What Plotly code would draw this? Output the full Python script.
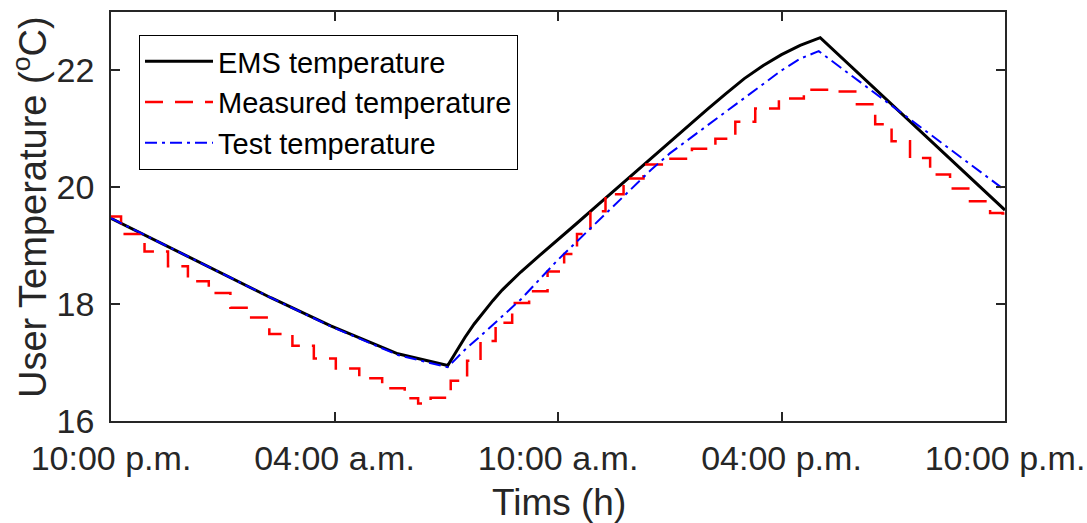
import plotly.graph_objects as go

# ---- data (hours after 10:00 p.m., temperature in degC) ----
ems_t = [0, 4.29, 5.9, 7.7, 9.04, 9.25, 9.5, 9.75, 10.0, 10.25, 10.5, 10.75, 11.0,
         11.5, 12.0, 12.5, 13.0, 14.0, 15.0, 16.0, 16.5, 17.0, 17.5, 18.0, 18.5, 19.04, 24]
ems_v = [19.47, 18.11, 17.63, 17.15, 16.95, 17.18, 17.43, 17.66, 17.87, 18.06, 18.24,
         18.40, 18.55, 18.83, 19.10, 19.38, 19.66, 20.22, 20.78, 21.33, 21.60, 21.86,
         22.08, 22.27, 22.43, 22.56, 19.61]

meas_t = [0, 0.54, 1.26, 1.8, 2.33, 2.92, 3.49, 3.94, 4.56, 5.18, 5.71, 6.36, 6.97,
          7.59, 8.18, 8.31, 8.85, 9.39, 9.73, 10.11, 10.54, 11.0, 11.45, 11.99, 12.34,
          12.68, 13.06, 13.49, 14.03, 14.56, 15.29, 15.9, 16.55, 16.97, 17.62, 18.24,
          18.96, 19.66, 20.3, 20.73, 21.18, 21.72, 22.26, 22.79, 23.33, 23.87, 24]
meas_v = [19.5, 19.2, 18.9, 18.65, 18.39, 18.19, 17.94, 17.77, 17.49, 17.29, 17.07,
          16.90, 16.73, 16.56, 16.39, 16.30, 16.40, 16.69, 17.03, 17.37, 17.68, 18.02,
          18.22, 18.56, 18.86, 19.2, 19.59, 19.88, 20.15, 20.39, 20.49, 20.66, 20.83,
          21.12, 21.35, 21.52, 21.67, 21.64, 21.42, 21.08, 20.79, 20.5, 20.22, 19.98,
          19.76, 19.56, 19.55]

test_t = [0, 4.29, 5.9, 7.7, 9.04, 9.25, 9.5, 10.0, 10.5, 11.0, 12.0, 13.0, 14.0,
          14.5, 15.0, 16.0, 17.0, 18.0, 18.5, 19.0, 24]
test_v = [19.47, 18.11, 17.62, 17.13, 16.92, 17.06, 17.22, 17.50, 17.79, 18.08, 18.76,
          19.38, 20.00, 20.30, 20.58, 21.05, 21.52, 22.00, 22.20, 22.33, 19.95]

tick_vals = [0, 6, 12, 18, 24]
tick_text = ["10:00 p.m.", "04:00 a.m.", "10:00 a.m.", "04:00 p.m.", "10:00 p.m."]
y_ticks = [16, 18, 20, 22]

FONT = "Liberation Sans, Arial, sans-serif"
AX = "#262626"

fig = go.Figure()
fig.add_trace(go.Scatter(x=ems_t, y=ems_v, mode="lines", name="EMS temperature",
                         line=dict(color="#000000", width=3)))
fig.add_trace(go.Scatter(x=meas_t, y=meas_v, mode="lines", name="Measured temperature",
                         line=dict(color="#FF0000", width=2.5, dash="18px,12px", shape="hvh")))
fig.add_trace(go.Scatter(x=test_t, y=test_v, mode="lines", name="Test temperature",
                         line=dict(color="#0000FF", width=2, dash="12px,5px,3px,5px")))

L, R, T, B = 111, 82, 12, 102
W, H = 1087, 523
pw, ph = W - L - R, H - T - B

def px_x(px):
    return (px - L) / pw

def px_y(py):
    return (H - B - py) / ph

fig.update_layout(
    width=W, height=H,
    margin=dict(l=L, r=R, t=T, b=B, autoexpand=False),
    paper_bgcolor="white", plot_bgcolor="white",
    font=dict(family=FONT, color=AX),
    showlegend=True,
    legend=dict(x=px_x(139), y=px_y(35), xanchor="left", yanchor="top",
                bgcolor="white", bordercolor="#000000", borderwidth=1,
                font=dict(size=29, color="#000000", family=FONT),
                tracegroupgap=0, itemwidth=68),
    xaxis=dict(range=[0, 24], tickvals=tick_vals, ticktext=tick_text, automargin=False,
               showgrid=False, zeroline=False, showline=True, linecolor=AX, linewidth=1.5,
               mirror="ticks", ticks="inside", ticklen=9, tickwidth=1.5, tickcolor=AX,
               tickfont=dict(size=34, color=AX, family=FONT), ticklabelstandoff=6),
    yaxis=dict(range=[16, 23], tickvals=y_ticks, automargin=False,
               showgrid=False, zeroline=False, showline=True, linecolor=AX, linewidth=1.5,
               mirror="ticks", ticks="inside", ticklen=9, tickwidth=1.5, tickcolor=AX,
               tickfont=dict(size=34, color=AX, family=FONT), ticklabelstandoff=8),
    annotations=[
        dict(text="User Temperature (<sup>o</sup>C)", x=px_x(30), y=px_y(207),
             xref="paper", yref="paper", textangle=-90, showarrow=False,
             xanchor="center", yanchor="middle",
             font=dict(size=38, color=AX, family=FONT)),
        dict(text="Tims (h)", x=px_x(559), y=px_y(502),
             xref="paper", yref="paper", showarrow=False,
             xanchor="center", yanchor="middle",
             font=dict(size=37, color=AX, family=FONT)),
    ],
)

fig.write_html("out.html", config={"displayModeBar": False},
               post_script="document.body.style.margin='0';document.body.style.overflow='hidden';")
